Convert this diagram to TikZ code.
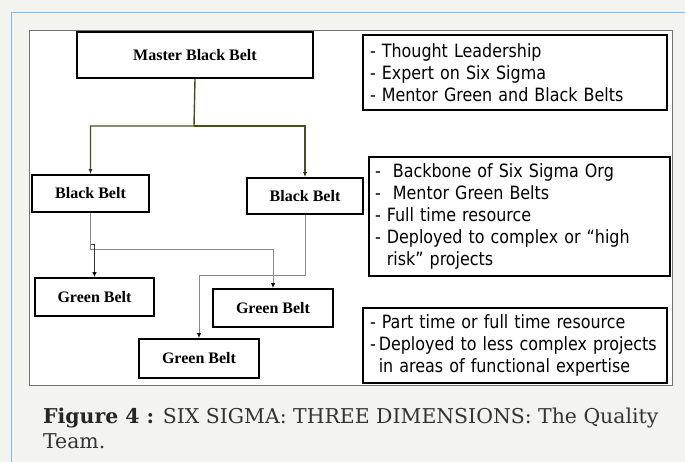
\documentclass[tikz,border=0pt]{standalone}
\usepackage{fontspec}
\setmainfont{Liberation Serif}
\newfontfamily\tah[FakeStretch=0.87]{DejaVu Sans}
\newfontfamily\capfont{DejaVu Serif}
\usetikzlibrary{arrows.meta}
\definecolor{pagebg}{HTML}{F3F3EF}
\definecolor{bluerule}{HTML}{8DB6E6}
\definecolor{olive}{RGB}{78,76,32}
\definecolor{gline}{HTML}{8A8A8A}
\definecolor{captxt}{HTML}{333333}
\tikzset{
  belt/.style={draw=black, line width=1.8pt, fill=white, inner sep=0pt,
    font=\fontsize{16}{18}\selectfont\bfseries},
  info/.style={draw=black, line width=1.8pt, fill=white, inner sep=0pt,
    align=left, font=\tah\fontsize{18.3}{22}\selectfont},
  oconn/.style={draw=olive, line width=1.4pt, -{Latex[length=5pt,width=4pt,color=olive!60!black]}},
  gconn/.style={draw=gline, line width=1pt, -{Latex[length=5pt,width=4.5pt,color=black]}},
  dconn/.style={draw=black!80, line width=1pt, -{Latex[length=5pt,width=4.5pt,color=black]}},
}
\begin{document}
\begin{tikzpicture}[x=1pt,y=-1pt]
\useasboundingbox (0,0) rectangle (685,462);
\fill[pagebg] (0,0) rectangle (685,462);
\draw[bluerule, line width=1pt] (11,462) -- (11,13) -- (685,13);
\draw[fill=white, draw=black!55, line width=0.9pt] (29,30) rectangle (672,385);

% belt boxes
\node[belt, minimum width=236pt, minimum height=46pt] (m) at (195,55) {Master Black Belt};
\node[belt, minimum width=117pt, minimum height=37pt] (bl) at (90.5,193.5) {Black Belt};
\node[belt, minimum width=116pt, minimum height=36pt] (br) at (305,196) {Black Belt};
\node[belt, minimum width=119pt, minimum height=38pt] (gl) at (94.5,297) {Green Belt};
\node[belt, minimum width=120pt, minimum height=38pt] (gm) at (273,308) {Green Belt};
\node[belt, minimum width=120pt, minimum height=39pt] (gb) at (199,358.5) {Green Belt};

% info boxes
\node[info, minimum width=304pt, minimum height=75pt, text width=290pt] (r1) at (515,72.5)
  {\mbox{- Thought Leadership}\\\mbox{- Expert on Six Sigma}\\\mbox{- Mentor Green and Black Belts}};
\node[info, minimum width=301pt, minimum height=119pt, text width=289pt] (r2) at (519.5,216.5)
  {\mbox{-\ \ Backbone of Six Sigma Org}\\\mbox{-\ \ Mentor Green Belts}\\\mbox{- Full time resource}\\\mbox{- Deployed to complex or “high}\\\mbox{\hphantom{-\ }risk” projects}};
\node[info, minimum width=304pt, minimum height=75pt, text width=290pt] (r3) at (515,345.5)
  {\mbox{- Part time or full time resource}\\\mbox{-\,Deployed to less complex projects}\\\mbox{\hphantom{-\,}in areas of functional expertise}};

% connectors
\coordinate (j) at (194,126);
\draw[oconn] (m.south) -- (j) -| (bl.north);
\draw[oconn] (j) -| (br.north);
\coordinate (h1) at (90.5,250);
\coordinate (h0) at (90.5,245);
\coordinate (h2) at (305,276);
\draw[gconn] (bl.south) -- (h1) -| (gm.north);
\draw[dconn] (h0) -| (gl.north);
\draw[gconn] (br.south) -- (h2) -| (gb.north);

% caption
\node[anchor=base west, inner sep=0pt, text=captxt, font=\capfont\fontsize{20.4}{25}\selectfont] (cap1) at (43,423)
  {\textbf{\color{black!85}Figure 4 :} SIX SIGMA: THREE DIMENSIONS: The Quality};
\node[anchor=base west, inner sep=0pt, text=captxt, font=\capfont\fontsize{20.4}{25}\selectfont] (cap2) at (43,448) {Team.};
\end{tikzpicture}
\end{document}
